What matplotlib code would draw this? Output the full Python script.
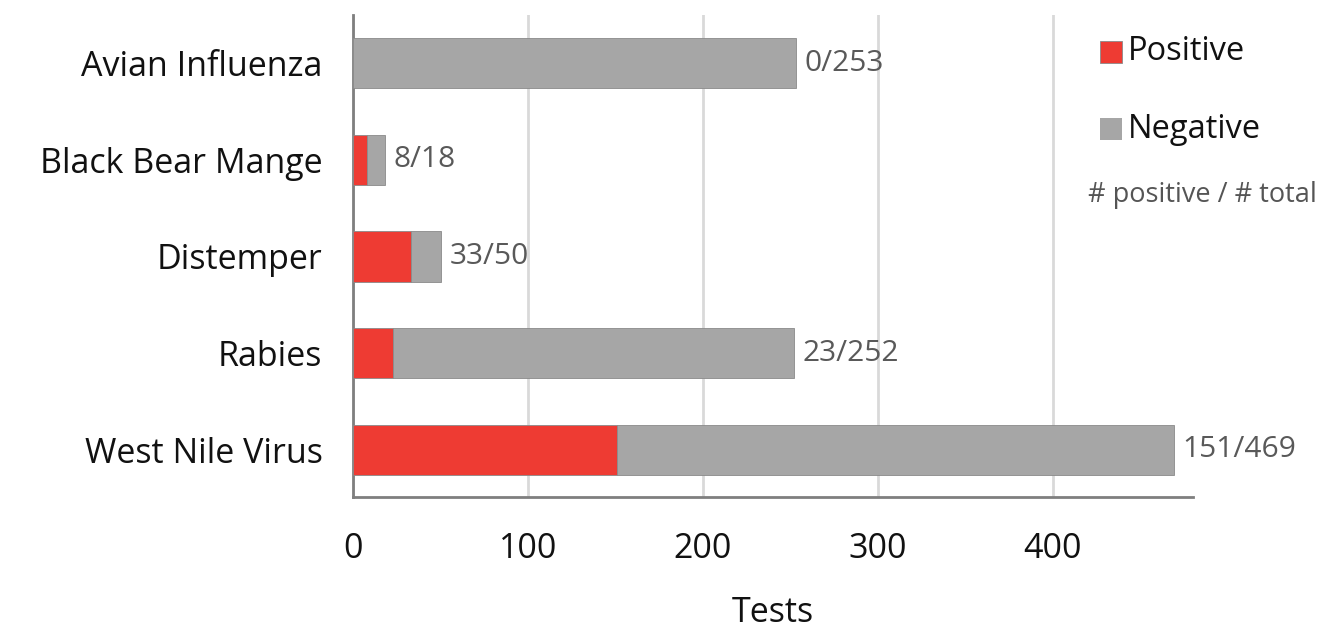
import matplotlib
matplotlib.use("Agg")
import matplotlib.pyplot as plt
from matplotlib.patches import Rectangle

categories = ["West Nile Virus", "Rabies", "Distemper", "Black Bear Mange", "Avian Influenza"]
positive = [151, 23, 33, 8, 0]
total = [469, 252, 50, 18, 253]
negative = [t - p for t, p in zip(total, positive)]
xticks = [0, 100, 200, 300, 400]
legend_labels = ["Positive", "Negative"]

RED = "#EE3B33"
GRAY = "#A6A6A6"
plt.rcParams['font.family'] = ['Open Sans', 'DejaVu Sans']

W, H = 1329, 638
fig = plt.figure(figsize=(W / 100, H / 100), dpi=100)
ax = fig.add_axes([353 / W, 1 - 497 / H, 840 / W, 482 / H])

y = list(range(len(categories)))
h = 0.52
ax.barh(y, positive, height=h, color=RED, edgecolor="#8a8a8a", linewidth=0.6, zorder=3)
ax.barh(y, negative, left=positive, height=h, color=GRAY, edgecolor="#8a8a8a", linewidth=0.6, zorder=3)
for yi, p, t in zip(y, positive, total):
    ax.text(t + 5, yi, f"{p}/{t}", va="center", ha="left", fontsize=21.5, color="#595959")

ax.set_xlim(0, 480)
ax.set_ylim(-0.49, 4.5)
ax.set_yticks(y)
ax.set_yticklabels(categories, fontsize=24.5, color="#111111")
ax.set_xticks(xticks)
ax.set_xticklabels([str(v) for v in xticks], fontsize=24.5, color="#111111")
ax.tick_params(axis="both", length=0)
ax.tick_params(axis="y", pad=22)
ax.tick_params(axis="x", pad=25)
ax.set_xlabel("Tests", fontsize=24.5, color="#111111", labelpad=22)
ax.grid(axis="x", color="#D9D9D9", linewidth=2, zorder=0)
for s in ["top", "right"]:
    ax.spines[s].set_visible(False)
for s in ["left", "bottom"]:
    ax.spines[s].set_color("#7f7f7f")
    ax.spines[s].set_linewidth(2)

# legend drawn manually in figure pixel coordinates
for i, (lab, col) in enumerate(zip(legend_labels, [RED, GRAY])):
    cy = 52 + i * 77
    fig.patches.append(Rectangle((1100 / W, 1 - (cy + 11) / H), 22 / W, 22 / H,
                                 transform=fig.transFigure, facecolor=col,
                                 edgecolor="#8a8a8a" if i == 0 else "none", linewidth=0.6))
    fig.text(1128 / W, 1 - cy / H, lab, ha="left", va="center", fontsize=23.5, color="#111111")
fig.text(1202 / W, 1 - 195 / H, "# positive / # total", ha="center", va="center",
         fontsize=19.5, color="#555555")

fig.savefig("out.png", dpi=100)
